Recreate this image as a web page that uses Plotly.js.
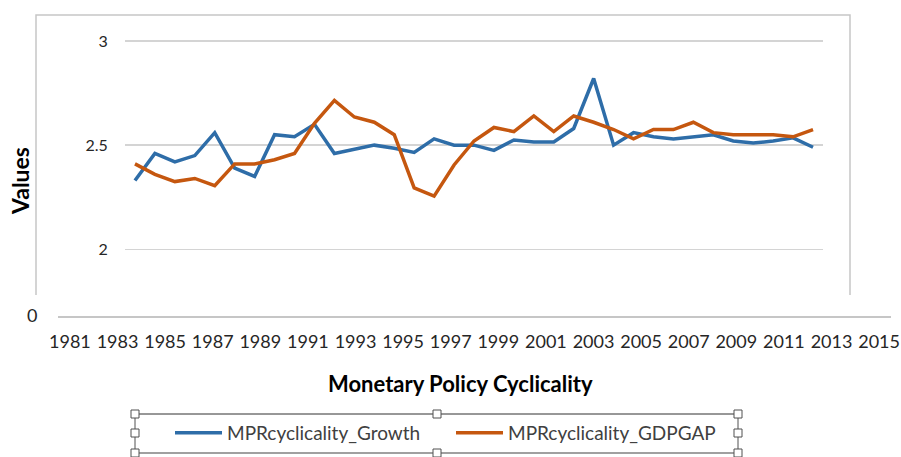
<!DOCTYPE html>
<html>
<head>
<meta charset="utf-8">
<script src="https://cdn.plot.ly/plotly-3.0.1.min.js"></script>
<style>
html,body{margin:0;padding:0;background:#ffffff;}
#chart{width:901px;height:457px;}
</style>
</head>
<body>
<div id="chart"></div>
<script>
// ---- data ----
const years = [1981,1982,1983,1984,1985,1986,1987,1988,1989,1990,1991,1992,1993,1994,1995,1996,1997,1998,1999,2000,2001,2002,2003,2004,2005,2006,2007,2008,2009,2010,2011,2012,2013,2014,2015];
const growth = [2.33,2.46,2.42,2.45,2.56,2.39,2.35,2.55,2.54,2.60,2.46,2.48,2.50,2.485,2.465,2.53,2.50,2.50,2.475,2.525,2.515,2.515,2.58,2.82,2.50,2.56,2.54,2.53,2.54,2.55,2.52,2.51,2.52,2.535,2.49];
const gdpgap = [2.41,2.36,2.325,2.34,2.305,2.41,2.41,2.43,2.46,2.605,2.715,2.635,2.61,2.55,2.295,2.255,2.405,2.52,2.585,2.565,2.64,2.565,2.64,2.61,2.575,2.53,2.575,2.575,2.61,2.56,2.55,2.55,2.55,2.54,2.575];
const axisYears = [1981,1983,1985,1987,1989,1991,1993,1995,1997,1999,2001,2003,2005,2007,2009,2011,2013,2015];
const innerTicks = [2, 2.5, 3];
const innerTickLabels = ['2', '2.5', '3'];
const outerTicks = [0];
const outerTickLabels = ['0'];
const seriesNames = ['MPRcyclicality_Growth', 'MPRcyclicality_GDPGAP'];

// ---- helpers (pixel -> paper) ----
const W = 901, H = 457;
const fx = p => p / W;
const fy = p => 1 - p / H;
const clear = 'rgba(0,0,0,0)';

const traces = [
  {x: years, y: growth, name: seriesNames[0], type: 'scatter', mode: 'lines',
   xaxis: 'x2', yaxis: 'y2', line: {color: '#2E6DA8', width: 3.5}, hoverinfo: 'x+y'},
  {x: years, y: gdpgap, name: seriesNames[1], type: 'scatter', mode: 'lines',
   xaxis: 'x2', yaxis: 'y2', line: {color: '#C5570F', width: 3.5}, hoverinfo: 'x+y'},
  // carrier for the outer (year / 0) axis frame; draws no visible mark
  {x: [years[0]], y: [outerTicks[0]], type: 'scatter', mode: 'lines', xaxis: 'x', yaxis: 'y',
   showlegend: false, hoverinfo: 'skip', line: {color: clear, width: 0}}
];

// handles for legend selection box
const handlePts = [[135,414],[437,414],[738,414],[135,433],[738,433],[135,453],[437,453],[738,453]];
const shapes = [
  {type:'path', xref:'paper', yref:'paper',
   path:`M${fx(36)},${fy(295)} L${fx(36)},${fy(15)} L${fx(850)},${fy(15)} L${fx(850)},${fy(295)}`,
   line:{color:'#c6c6c6', width:1.5}},
  {type:'line', xref:'paper', yref:'paper', x0:fx(135), x1:fx(738), y0:fy(414), y1:fy(414), line:{color:'#303030', width:1}},
  {type:'line', xref:'paper', yref:'paper', x0:fx(135), x1:fx(738), y0:fy(453), y1:fy(453), line:{color:'#a0a0a0', width:2}},
  {type:'line', xref:'paper', yref:'paper', x0:fx(135), x1:fx(135), y0:fy(414), y1:fy(453), line:{color:'#505050', width:1}},
  {type:'line', xref:'paper', yref:'paper', x0:fx(738), x1:fx(738), y0:fy(414), y1:fy(453), line:{color:'#505050', width:1}}
];
handlePts.forEach(([cx, cy]) => {
  shapes.push({type:'rect', xref:'paper', yref:'paper',
    x0:fx(cx-4), x1:fx(cx+4), y0:fy(cy+4), y1:fy(cy-4),
    fillcolor:'#ffffff', line:{color:'#505050', width:1}});
});

const layout = {
  width: W, height: H,
  margin: {l:0, r:0, t:0, b:0, pad:0},
  paper_bgcolor: '#ffffff', plot_bgcolor: clear,
  font: {family: 'Lato, "Liberation Sans", sans-serif', color: '#333333', size: 17},
  showlegend: true,
  legend: {orientation:'h', x: fx(170), y: fy(433), xanchor:'left', yanchor:'middle',
           bgcolor: clear, borderwidth: 0, font:{size:19, color:'#404040'},
           itemwidth: 47, entrywidth: 219, entrywidthmode:'pixels', tracegroupgap:0},
  xaxis: {domain:[fx(58), fx(891)], range:[1980.5, 2015.5], anchor:'y',
          tickmode:'array', tickvals: axisYears, ticktext: axisYears.map(String),
          showline:true, linecolor:'#c6c6c6', linewidth:1.5, showgrid:false, zeroline:false,
          ticks:'outside', ticklen:9, tickcolor:clear, tickfont:{size:18, color:'#262626'},
          fixedrange:true},
  yaxis: {domain:[fy(316), fy(200)], range:[0, 1], anchor:'x',
          tickmode:'array', tickvals: outerTicks, ticktext: outerTickLabels,
          showgrid:false, zeroline:false, showline:false,
          ticks:'outside', ticklen:16, tickcolor:clear, tickfont:{size:18, color:'#262626'},
          fixedrange:true},
  xaxis2: {domain:[fx(125), fx(823)], range:[1980.5, 2015.5], anchor:'y2',
           showticklabels:false, showgrid:false, zeroline:false, showline:false, ticks:'',
           fixedrange:true},
  yaxis2: {domain:[fy(259.7), fy(30.6)], range:[1.95, 3.05], anchor:'x2',
           tickmode:'array', tickvals: innerTicks, ticktext: innerTickLabels,
           showgrid:true, gridcolor:'#d4d4d4', gridwidth:1.5, zeroline:false, showline:false,
           ticks:'outside', ticklen:13, tickcolor:clear, tickfont:{size:16, color:'#262626'},
           fixedrange:true},
  annotations: [
    {text:'<b>Values</b>', xref:'paper', yref:'paper', x:fx(20), y:fy(181), xanchor:'center', yanchor:'middle',
     textangle:-90, showarrow:false, font:{size:23, color:'#000000'}},
    {text:'<b>Monetary Policy Cyclicality</b>', xref:'paper', yref:'paper', x:fx(460), y:fy(383),
     xanchor:'center', yanchor:'middle', showarrow:false, font:{size:22, color:'#000000'}}
  ],
  shapes: shapes
};

Plotly.newPlot('chart', traces, layout, {displayModeBar:false, staticPlot:true});
</script>
</body>
</html>
